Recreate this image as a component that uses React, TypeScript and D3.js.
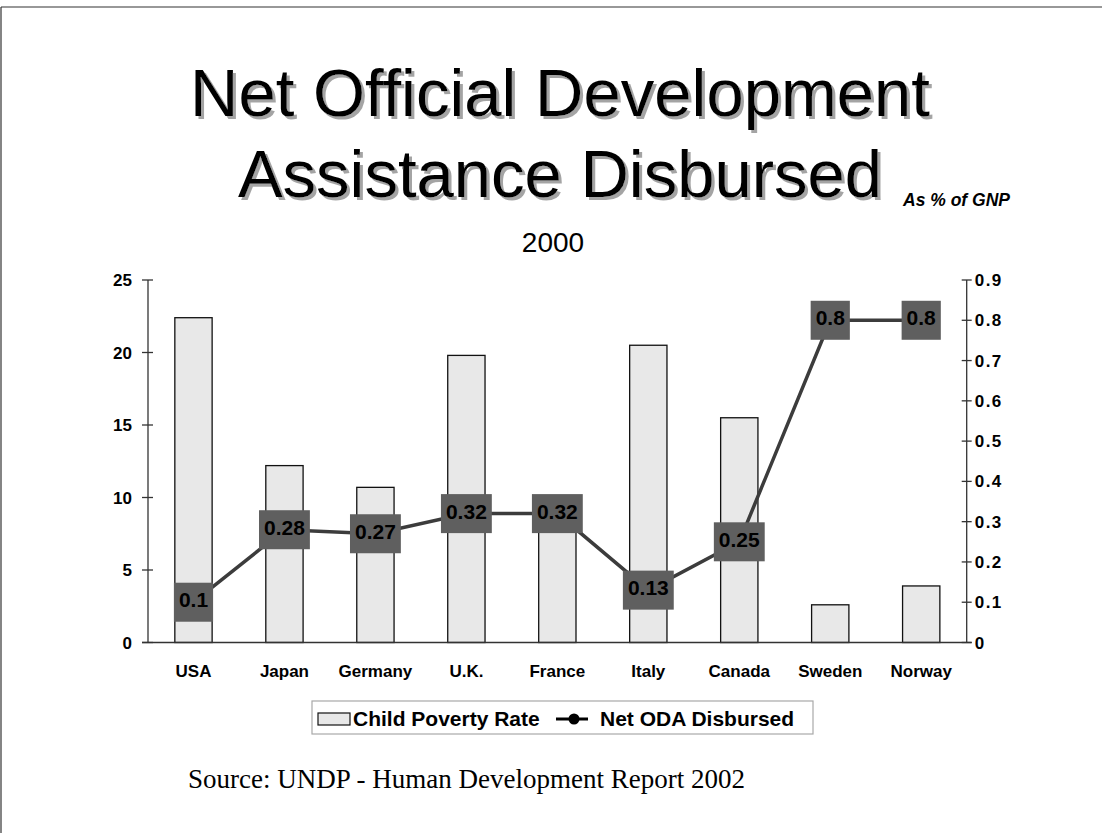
import React from "react";
import * as d3 from "d3";

const categories = ["USA", "Japan", "Germany", "U.K.", "France", "Italy", "Canada", "Sweden", "Norway"];
const childPoverty = [22.4, 12.2, 10.7, 19.8, 7.9, 20.5, 15.5, 2.6, 3.9];
const netODA = [0.1, 0.28, 0.27, 0.32, 0.32, 0.13, 0.25, 0.8, 0.8];
const leftTicks = [0, 5, 10, 15, 20, 25];
const rightTicks = [0, 0.1, 0.2, 0.3, 0.4, 0.5, 0.6, 0.7, 0.8, 0.9];
const titleLines = ["Net Official Development", "Assistance Disbursed"];
const subtitle = "2000";
const unitNote = "As % of GNP";
const sourceText = "Source: UNDP - Human Development Report 2002";
const legendBar = "Child Poverty Rate";
const legendLine = "Net ODA Disbursed";

const SANS = "'Liberation Sans', Arial, sans-serif";
const SERIF = "'Liberation Serif', 'Times New Roman', serif";

function textW(s: string, size: number) {
  let w = 0;
  for (const c of s) w += c === "." ? 0.278 : 0.556;
  return w * size;
}

export default function App() {
  const W = 1102, H = 833;
  const xL = 148, xR = 966.7, yT = 280, yB = 642.5;

  const x = d3.scaleBand<string>().domain(categories).range([xL, xR]).padding(0);
  const yLeft = d3.scaleLinear().domain([0, 25]).range([yB, yT]);
  const yRight = d3.scaleLinear().domain([0, 0.9]).range([yB, yT]);
  const bw = x.bandwidth() * 0.41;
  const cx = (c: string) => (x(c) as number) + x.bandwidth() / 2;

  const line = d3
    .line<number>()
    .x((_, i) => cx(categories[i]))
    .y((d) => yRight(d));

  const fmtR = (v: number) => (v === 0 ? "0" : d3.format(".1f")(v));
  const boxFont = 21;

  return (
    <svg
      width={W}
      height={H}
      style={{ position: "absolute", left: 0, top: 0, background: "#fff" }}
    >
      <defs>
        <filter id="tshadow" x="-5%" y="-20%" width="110%" height="150%">
          <feDropShadow dx={3} dy={3} stdDeviation={0.6} floodColor="#9a9a9a" floodOpacity={0.9} />
        </filter>
      </defs>
      <rect x={0} y={0} width={W} height={H} fill="#fff" />
      {/* frame */}
      <line x1={1} y1={7} x2={W} y2={7} stroke="#333" strokeWidth={1.2} />
      <line x1={1} y1={7} x2={1} y2={H} stroke="#333" strokeWidth={1.2} />

      {/* title */}
      <g fontFamily={SANS} fontSize={67} textAnchor="middle" filter="url(#tshadow)">
        {titleLines.map((t, i) => (
          <text key={t} x={560} y={116 + i * 81} fill="#000">{t}</text>
        ))}
      </g>
      <text x={903} y={206} fontFamily={SANS} fontSize={17.5} fontWeight="bold" fontStyle="italic">
        {unitNote}
      </text>
      <text x={553} y={252} fontFamily={SANS} fontSize={28} textAnchor="middle">
        {subtitle}
      </text>

      {/* bars */}
      {categories.map((c, i) => (
        <rect
          key={c}
          x={cx(c) - bw / 2}
          y={yLeft(childPoverty[i])}
          width={bw}
          height={yB - yLeft(childPoverty[i])}
          fill="#e8e8e8"
          stroke="#111"
          strokeWidth={1.3}
        />
      ))}

      {/* axes */}
      <g stroke="#333" strokeWidth={1.3}>
        <line x1={xL} y1={yT} x2={xL} y2={yB} />
        <line x1={xR} y1={yT} x2={xR} y2={yB} />
        <line x1={xL - 6} y1={yB} x2={xR + 5} y2={yB} />
        {leftTicks.map((t) => (
          <line key={"lt" + t} x1={xL - 6} x2={xL + 5} y1={yLeft(t)} y2={yLeft(t)} />
        ))}
        {rightTicks.map((t) => (
          <line key={"rt" + t} x1={xR - 5} x2={xR + 5} y1={yRight(t)} y2={yRight(t)} />
        ))}
      </g>
      <g fontFamily={SANS} fontSize={17} fontWeight="bold">
        {leftTicks.map((t) => (
          <text key={"ll" + t} x={xL - 16} y={yLeft(t) + 6} textAnchor="end">{t}</text>
        ))}
        {rightTicks.map((t) => (
          <text key={"rl" + t} x={xR + 8} y={yRight(t) + 6} textAnchor="start" letterSpacing={1.5}>
            {fmtR(t)}
          </text>
        ))}
        {categories.map((c) => (
          <text key={"xl" + c} x={cx(c)} y={677} textAnchor="middle">{c}</text>
        ))}
      </g>

      {/* line */}
      <path d={line(netODA) || ""} fill="none" stroke="#3c3c3c" strokeWidth={3.5} />
      {netODA.map((v, i) => {
        const label = String(v);
        const w = textW(label, boxFont) + 10;
        const h = 39;
        const px = cx(categories[i]);
        const py = yRight(v);
        return (
          <g key={"b" + i}>
            <rect x={px - w / 2} y={py - h / 2} width={w} height={h} fill="#5f5f5f" />
            <text
              x={px}
              y={py + 5}
              textAnchor="middle"
              fontFamily={SANS}
              fontSize={boxFont}
              fontWeight="bold"
              fill="#000"
            >
              {label}
            </text>
          </g>
        );
      })}

      {/* legend */}
      <rect x={312} y={701} width={501} height={33} fill="#fff" stroke="#a8a8a8" strokeWidth={1.2} />
      <rect x={318} y={713} width={32} height={12} fill="#e8e8e8" stroke="#111" strokeWidth={1.2} />
      <text x={353} y={726} fontFamily={SANS} fontSize={21} fontWeight="bold">
        {legendBar}
      </text>
      <line x1={556} x2={588} y1={719} y2={719} stroke="#000" strokeWidth={3} />
      <circle cx={574} cy={719} r={5.5} fill="#000" />
      <text x={600} y={726} fontFamily={SANS} fontSize={21} fontWeight="bold">
        {legendLine}
      </text>

      {/* source */}
      <text x={188} y={788} fontFamily={SERIF} fontSize={27}>
        {sourceText}
      </text>
    </svg>
  );
}
